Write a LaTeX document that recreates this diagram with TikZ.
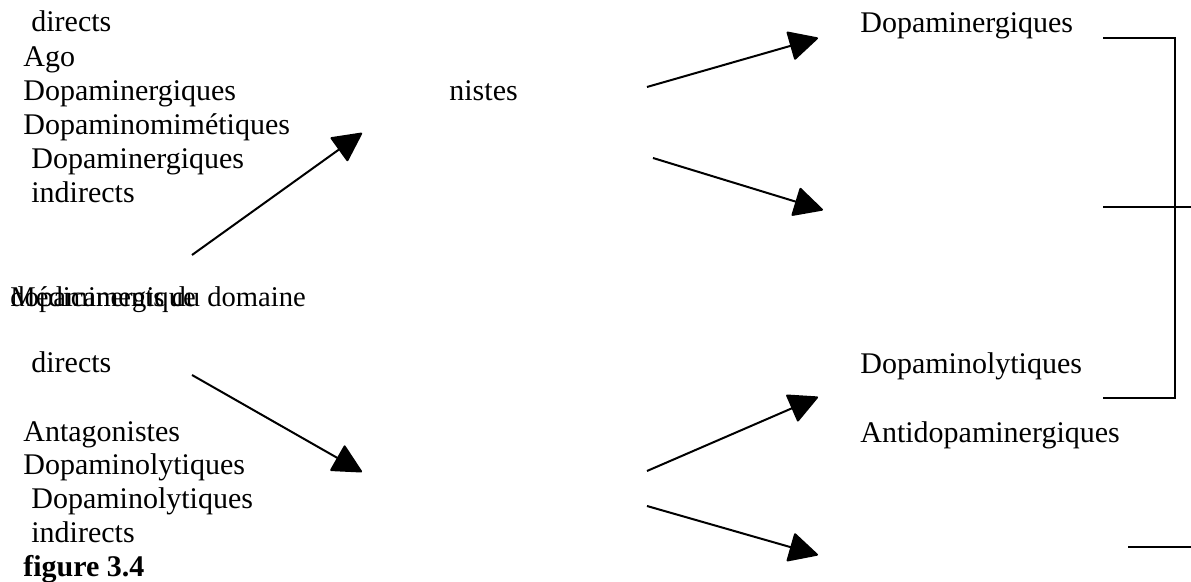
\documentclass[tikz,border=0pt]{standalone}
\usepackage{fontspec}
\setmainfont{Liberation Serif}
\usetikzlibrary{positioning,arrows.meta}

\begin{document}
\begin{tikzpicture}[x=0.5pt, y=-0.5pt,
    every node/.style={font=\fontsize{15}{18}\selectfont, inner sep=0pt, anchor=base west},
    flow/.style={line width=1pt, -{Triangle[length=15pt, width=15pt, round]}},
    brace/.style={line width=0.8pt}]
    \useasboundingbox (0,0) rectangle (1191,582);
    % left column, top group
    \node (dirA) at (31,32) {directs};
    \node (ago) at (23,67) {Ago};
    \node (dpgA) at (23,101) {Dopaminergiques};
    \node (dmim) at (23,135) {Dopaminomimétiques};
    \node (dpgB) at (31,169) {Dopaminergiques};
    \node (indA) at (31,203) {indirects};
    \node (nist) at (449,101) {nistes};
    % overlapping title
    \node[font=\fontsize{14.3}{17}\selectfont] (med) at (10,307) {Médicaments du domaine};
    \node[font=\fontsize{14.3}{17}\selectfont] (dopa) at (10,307) {dopaminergique};
    % left column, bottom group
    \node (dirB) at (31,373) {directs};
    \node (anta) at (23,442) {Antagonistes};
    \node (dlyA) at (23,475) {Dopaminolytiques};
    \node (dlyB) at (31,509) {Dopaminolytiques};
    \node (indB) at (31,543) {indirects};
    \node[font=\fontsize{15}{18}\selectfont\bfseries] (fig) at (23,577) {figure 3.4};
    % right column
    \node (rdpg) at (860,33) {Dopaminergiques};
    \node (rdly) at (860,374) {Dopaminolytiques};
    \node (ranti) at (860,443) {Antidopaminergiques};
    % arrow ends
    \coordinate (a1s) at (192,255);  \coordinate (a1e) at (362,133);
    \coordinate (a2s) at (647,87);   \coordinate (a2e) at (818,38);
    \coordinate (a3s) at (653,158);  \coordinate (a3e) at (823,210);
    \coordinate (a4s) at (192,375);  \coordinate (a4e) at (362,472);
    \coordinate (a5s) at (647,471);  \coordinate (a5e) at (818,397);
    \coordinate (a6s) at (647,506);  \coordinate (a6e) at (818,555);
    \draw[flow] (a1s) -- (a1e);
    \draw[flow] (a2s) -- (a2e);
    \draw[flow] (a3s) -- (a3e);
    \draw[flow] (a4s) -- (a4e);
    \draw[flow] (a5s) -- (a5e);
    \draw[flow] (a6s) -- (a6e);
    % bracket on the right
    \coordinate (bTL) at (1103,38);  \coordinate (bTR) at (1175,38);
    \coordinate (bBL) at (1103,398); \coordinate (bBR) at (1175,398);
    \coordinate (bML) at (1103,207); \coordinate (bMR) at (1191,207);
    \coordinate (bLL) at (1128,547); \coordinate (bLR) at (1191,547);
    \draw[brace] (bTL) -- (bTR) -- (bBR) -- (bBL);
    \draw[brace] (bML) -- (bMR);
    \draw[brace] (bLL) -- (bLR);
  \end{tikzpicture}
\end{document}
